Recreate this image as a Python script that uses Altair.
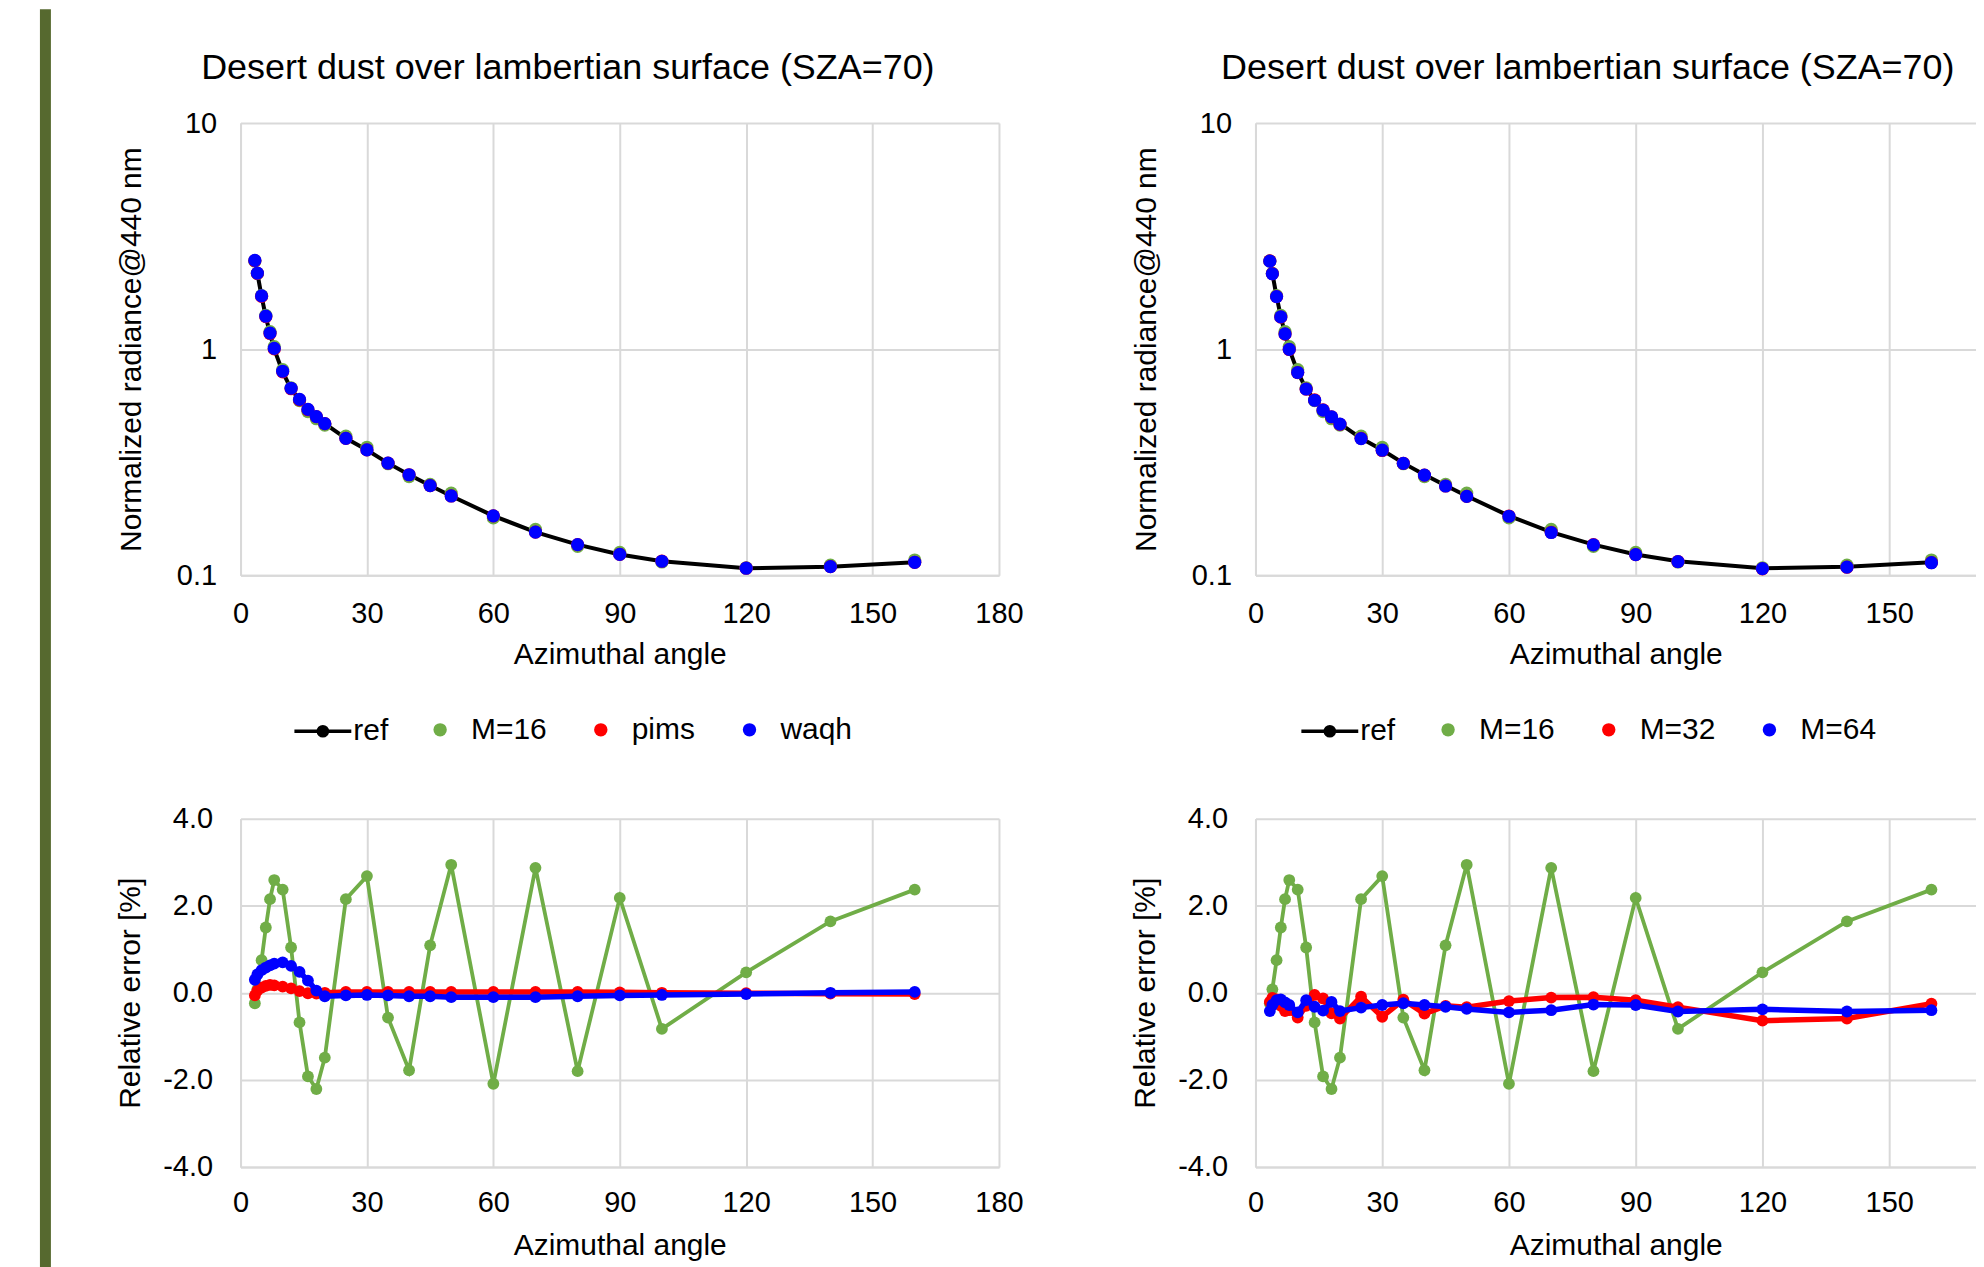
import altair as alt
import pandas as pd

# ---------------- data ----------------
angle = [3.4, 4, 5, 6, 7, 8, 10, 12, 14, 16, 18, 20, 25, 30, 35, 40, 45, 50,
         60, 70, 80, 90, 100, 120, 140, 160]

# top panels: normalized radiance
ref_rad = [2.46, 2.16, 1.71, 1.39, 1.17, 1.00, 0.792, 0.667, 0.596, 0.539, 0.503,
           0.468, 0.403, 0.358, 0.313, 0.278, 0.249, 0.224, 0.183, 0.155, 0.1365,
           0.1235, 0.1153, 0.1073, 0.109, 0.114]
m16_rad = [2.454, 2.162, 1.723, 1.411, 1.195, 1.026, 0.811, 0.674, 0.592, 0.529,
           0.492, 0.461, 0.412, 0.368, 0.311, 0.273, 0.252, 0.2306, 0.1792, 0.1594,
           0.1340, 0.1262, 0.1143, 0.1078, 0.1108, 0.1167]
pims_rad = [2.459, 2.161, 1.712, 1.392, 1.172, 1.002, 0.793, 0.668, 0.596, 0.539,
            0.503, 0.468, 0.403, 0.358, 0.313, 0.278, 0.249, 0.224, 0.183, 0.155,
            0.1365, 0.1235, 0.1153, 0.1073, 0.109, 0.114]
waqh_rad = [2.467, 2.169, 1.719, 1.398, 1.177, 1.007, 0.798, 0.671, 0.599, 0.541,
            0.503, 0.468, 0.403, 0.358, 0.313, 0.278, 0.249, 0.224, 0.183, 0.155,
            0.1365, 0.1235, 0.1152, 0.1073, 0.109, 0.114]
m32_rad = [2.455, 2.157, 1.707, 1.386, 1.165, 0.996, 0.787, 0.665, 0.596, 0.538,
           0.501, 0.465, 0.403, 0.356, 0.3125, 0.277, 0.248, 0.223, 0.1827, 0.1548,
           0.1364, 0.1233, 0.1149, 0.1066, 0.1084, 0.1137]
m64_rad = [2.450, 2.154, 1.707, 1.388, 1.167, 0.997, 0.788, 0.666, 0.594, 0.537,
           0.502, 0.466, 0.402, 0.357, 0.312, 0.277, 0.248, 0.223, 0.1822, 0.1544,
           0.1361, 0.1232, 0.1148, 0.1069, 0.1085, 0.1135]

# bottom panels: relative error [%]
m16_err = [-0.24, 0.08, 0.75, 1.50, 2.15, 2.59, 2.37, 1.04, -0.68, -1.92, -2.21,
           -1.49, 2.15, 2.68, -0.57, -1.78, 1.09, 2.94, -2.09, 2.87, -1.80, 2.18,
           -0.83, 0.47, 1.64, 2.37]
pims_err = [-0.06, 0.05, 0.12, 0.16, 0.18, 0.17, 0.14, 0.10, 0.04, -0.01, -0.02,
            0.00, 0.02, 0.02, 0.02, 0.02, 0.02, 0.02, 0.02, 0.02, 0.02, 0.01, 0.00,
            -0.01, -0.02, -0.03]
waqh_err = [0.30, 0.42, 0.52, 0.58, 0.63, 0.67, 0.70, 0.62, 0.48, 0.28, 0.05,
            -0.08, -0.06, -0.05, -0.06, -0.08, -0.08, -0.10, -0.10, -0.10, -0.08,
            -0.06, -0.05, -0.03, 0.00, 0.02]
m32_err = [-0.21, -0.12, -0.15, -0.30, -0.42, -0.40, -0.57, -0.30, -0.05, -0.13,
           -0.47, -0.59, -0.09, -0.55, -0.16, -0.48, -0.30, -0.33, -0.19, -0.11,
           -0.10, -0.17, -0.33, -0.64, -0.59, -0.25]
m64_err = [-0.42, -0.28, -0.17, -0.15, -0.22, -0.28, -0.45, -0.17, -0.32, -0.41,
           -0.21, -0.42, -0.34, -0.28, -0.24, -0.28, -0.32, -0.37, -0.45, -0.40,
           -0.27, -0.28, -0.43, -0.38, -0.43, -0.40]

TITLE = "Desert dust over lambertian surface (SZA=70)"
left_names = ["M=16", "pims", "waqh"]
right_names = ["M=16", "M=32", "M=64"]

# ---------------- style ----------------
FONT = "Liberation Sans"
GREEN, RED, BLUE = "#70ad47", "#ff0000", "#0000ff"
GRID = "#d9d9d9"
REF_SYMBOL = ("M-1,0L1,0 "
              "M0.16,0A0.16,0.16,0,1,1,-0.16,0A0.16,0.16,0,1,1,0.16,0 "
              "M0.07,0A0.07,0.07,0,1,1,-0.07,0A0.07,0.07,0,1,1,0.07,0")


def long_df(names, arrays):
    rows = []
    for k, (name, arr) in enumerate(zip(names, arrays)):
        for a, v in zip(angle, arr):
            rows.append({"angle": a, "value": v, "series": name, "ord": k})
    return pd.DataFrame(rows)


def x_enc(xmax, xvals, lab_pad, title_pad):
    return alt.X("angle:Q",
                 scale=alt.Scale(domain=[0, xmax], nice=False, zero=False),
                 axis=alt.Axis(values=xvals, title="Azimuthal angle", grid=True,
                               labelFlush=False, labelPadding=lab_pad,
                               titlePadding=title_pad))


def top_panel(names, arrays, width, xmax, xvals, title_dx, leg_ref_x, leg_pts_x):
    ref_df = pd.DataFrame({"angle": angle, "value": ref_rad, "lseries": "ref"})
    pts_df = long_df(names, arrays)
    x = x_enc(xmax, xvals, 24, 11.5)
    y = alt.Y("value:Q",
              scale=alt.Scale(type="log", domain=[0.1, 10], nice=False),
              axis=alt.Axis(values=[0.1, 1, 10], format="~g", grid=True,
                            title="Normalized radiance@440 nm",
                            labelPadding=24, minExtent=64, maxExtent=64,
                            titlePadding=30))
    line = alt.Chart(ref_df).mark_line(strokeWidth=4).encode(
        x=x, y=y,
        color=alt.Color("lseries:N",
                        scale=alt.Scale(domain=["ref"], range=["#000000"]),
                        legend=alt.Legend(orient="none", legendX=leg_ref_x,
                                          legendY=579, title=None, padding=0,
                                          symbolType=REF_SYMBOL, symbolSize=3249,
                                          symbolStrokeWidth=3.5,
                                          symbolStrokeColor="#000000",
                                          symbolFillColor="#000000",
                                          labelOffset=0)))
    pts = alt.Chart(pts_df).mark_circle(size=175, opacity=1).encode(
        x=x, y=y,
        order=alt.Order("ord:Q"),
        color=alt.Color("series:N",
                        scale=alt.Scale(domain=names, range=[GREEN, RED, BLUE]),
                        legend=alt.Legend(orient="none", direction="horizontal",
                                          legendX=leg_pts_x, legendY=593,
                                          title=None, padding=0,
                                          symbolType="circle", symbolSize=180,
                                          labelOffset=16, columnPadding=39)))
    return alt.layer(line, pts).resolve_scale(color="independent").properties(
        width=width, height=453,
        title=alt.TitleParams(["", TITLE], fontSize=36, font=FONT,
                              fontWeight="normal", color="#000000",
                              lineHeight=33.5, offset=22.5, dx=title_dx,
                              anchor="middle"))


def bottom_panel(names, arrays, width, xmax, xvals):
    df = long_df(names, arrays)
    x = x_enc(xmax, xvals, 22, 13)
    y = alt.Y("value:Q",
              scale=alt.Scale(domain=[-4, 4], nice=False),
              axis=alt.Axis(values=[-4, -2, 0, 2, 4], grid=True,
                            labelExpr="(datum.value < 0 ? '-' : '') + format(abs(datum.value), '.1f')",
                            title="Relative error [%]",
                            labelPadding=28, minExtent=78, maxExtent=78,
                            titlePadding=17))
    layers = []
    for name, col, sw in zip(names, [GREEN, RED, BLUE], [3.8, 5.5, 5.5]):
        layers.append(
            alt.Chart(df).transform_filter(alt.datum.series == name)
            .mark_line(color=col, strokeWidth=sw,
                       point=alt.OverlayMarkDef(color=col, size=140, filled=True,
                                                opacity=1))
            .encode(x=x, y=y))
    return alt.layer(*layers).properties(width=width, height=349)


left_col = alt.vconcat(
    top_panel(left_names, [m16_rad, pims_rad, waqh_rad], 760, 180,
              [0, 30, 60, 90, 120, 150, 180], -52, 52, 185),
    bottom_panel(left_names, [m16_err, pims_err, waqh_err], 760, 180,
                 [0, 30, 60, 90, 120, 150, 180]),
    spacing=58)

right_col = alt.vconcat(
    top_panel(right_names, [m16_rad, m32_rad, m64_rad], 722, 170.55,
              [0, 30, 60, 90, 120, 150], -28, 44, 178),
    bottom_panel(right_names, [m16_err, m32_err, m64_err], 722, 170.55,
                 [0, 30, 60, 90, 120, 150]),
    spacing=58)

bar = alt.Chart(pd.DataFrame({"k": [0]})).mark_rect(color="#56692f").encode(
    x=alt.value(0), x2=alt.value(11), y=alt.value(-114), y2=alt.value(1160)
).properties(width=11, height=100)

chart = alt.hconcat(
    bar,
    alt.hconcat(left_col, right_col, spacing=107),
    spacing=65,
).properties(
    padding={"left": 32, "top": 0, "right": 0, "bottom": 0}
).configure_view(stroke=None).configure_axis(
    domainColor=GRID, domainWidth=2, gridColor=GRID, gridWidth=2,
    ticks=False, tickSize=0,
    labelFont=FONT, labelFontSize=29, labelColor="#000000",
    titleFont=FONT, titleFontSize=30, titleFontWeight="normal",
    titleColor="#000000",
).configure_legend(
    labelFont=FONT, labelFontSize=30, labelColor="#000000",
)

chart.save("out.html", embed_options={"renderer": "svg", "actions": False})
